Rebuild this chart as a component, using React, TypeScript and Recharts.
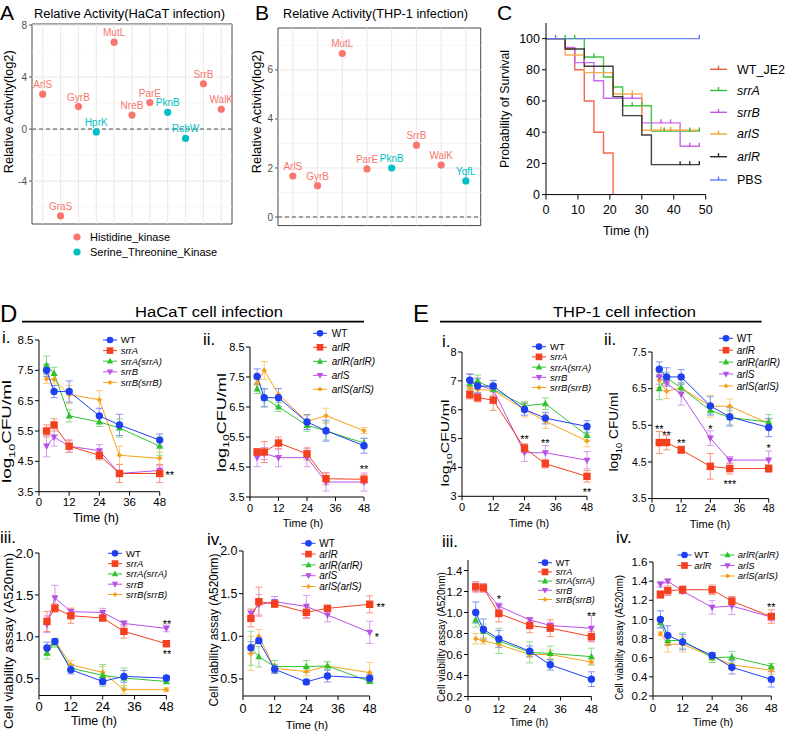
import React from 'react';
import {
  ComposedChart, ScatterChart, Scatter, Line, XAxis, YAxis, ErrorBar,
  ReferenceLine, ReferenceArea, ReferenceDot,
} from 'recharts';

const FONT = '"Liberation Sans", Arial, Helvetica, sans-serif';

// ---------------- Panel A / B : relative activity ----------------
const genesA = ['ArlS', 'GraS', 'GyrB', 'HprK', 'MutL', 'NreB', 'ParE', 'PknB', 'RsbW', 'SrrB', 'WalK'];
const valuesA = [2.68, -6.68, 1.73, -0.22, 6.68, 1.08, 2.04, 1.29, -0.72, 3.48, 1.52];
const kindsA = [0, 0, 0, 1, 0, 0, 0, 1, 1, 0, 0];
const ticksA = [-4, 0, 4, 8];
const minorA = [-6, -2, 2, 6];

const genesB = ['ArlS', 'GyrB', 'MutL', 'ParE', 'PknB', 'SrrB', 'WalK', 'YqfL'];
const valuesB = [1.67, 1.28, 6.67, 1.96, 2.0, 2.93, 2.12, 1.47];
const kindsB = [0, 0, 0, 0, 1, 0, 0, 1];
const ticksB = [0, 2, 4, 6];
const minorB = [1, 3, 5, 7];

const kindNames = ['Histidine_kinase', 'Serine_Threonine_Kinase'];
const kindColors = ['#F8766D', '#00BFC4'];

// ---------------- Panel C : survival ----------------
const kmNames = ['WT_JE2', 'srrA', 'srrB', 'arlS', 'arlR', 'PBS'];
const kmItalic = [false, true, true, true, true, false];
const kmColors = ['#f2583c', '#35bd35', '#c25ae6', '#f5a53c', '#2b2b2b', '#5b7cf2'];
const kmWT = [[0, 100], [6, 93.3], [9, 80], [12, 60], [15, 40], [18, 26.7], [21, 0]];
const kmSrrA = [[0, 100], [12, 88.2], [18, 75.4], [21, 69], [24, 57], [33, 40.8], [48, 40.8]];
const kmSrrB = [[0, 100], [6, 94.4], [9, 84.6], [15, 73], [18, 61.8], [30, 46], [42, 31], [48, 31]];
const kmArlS = [[0, 100], [6, 89.5], [12, 78.2], [21, 64.5], [30, 41.2], [48, 41.2]];
const kmArlR = [[0, 100], [6, 93.3], [12, 82.3], [21, 62.8], [24, 50.6], [30, 38.2], [33, 19.2], [48, 19.2]];
const kmPBS = [[0, 100], [48, 100]];
const cenWT: number[][] = [];
const cenSrrA = [[6, 100], [9, 100], [15, 88.2], [27, 57], [30, 57], [37, 40.8], [39, 40.8], [45, 40.8], [48, 40.8]];
const cenSrrB = [[12, 84.6], [27, 61.8], [36, 46], [39, 46], [45, 31], [48, 31]];
const cenArlS = [[15, 78.2], [27, 64.5], [36, 41.2], [39, 41.2], [42, 41.2]];
const cenArlR = [[42, 19.2], [45, 19.2], [48, 19.2]];
const cenPBS = [[3, 100], [48, 100]];
const kmCurves = [kmWT, kmSrrA, kmSrrB, kmArlS, kmArlR, kmPBS];
const kmCensors = [cenWT, cenSrrA, cenSrrB, cenArlS, cenArlR, cenPBS];
const kmTimeTicks = [0, 10, 20, 30, 40, 50];
const kmPctTicks = [0, 20, 40, 60, 80, 100];

// ---------------- Panels D / E : time courses ----------------
const times = [3, 6, 12, 24, 32, 48];
const timeTicks = [0, 12, 24, 36, 48];
const srrNames = ['WT', 'srrA', 'srrA(srrA)', 'srrB', 'srrB(srrB)'];
const arlNames = ['WT', 'arlR', 'arlR(arlR)', 'arlS', 'arlS(arlS)'];
const seriesColors = ['#1f3ff2', '#f5401f', '#2fc42f', '#b84fe6', '#f7a11a'];
const errColors = ['#8494f6', '#f7937f', '#8fdb8f', '#d59cef', '#f9ca74'];

const dIMeans = [
  [7.5, 6.8, 6.8, 6.0, 5.7, 5.2],
  [5.5, 5.7, 5.0, 4.7, 4.1, 4.1],
  [7.67, 7.4, 6.0, 5.8, 5.6, 5.0],
  [5.0, 5.3, 5.0, 4.85, 4.1, 4.2],
  [7.22, 7.2, 6.7, 6.53, 4.7, 4.6],
];
const dIErrs = [
  [0.2, 0.2, 0.35, 0.25, 0.35, 0.2],
  [0.2, 0.2, 0.2, 0.15, 0.3, 0.3],
  [0.3, 0.2, 0.2, 0.15, 0.3, 0.3],
  [0.35, 0.3, 0.2, 0.2, 0.1, 0.15],
  [0.15, 0.15, 0.3, 0.3, 0.3, 0.2],
];
const dIIMeans = [
  [7.52, 6.81, 6.81, 6.0, 5.71, 5.21],
  [5.0, 5.0, 5.3, 4.94, 4.11, 4.09],
  [7.1, 6.8, 6.5, 5.89, 5.7, 5.3],
  [4.81, 4.95, 4.81, 4.81, 4.0, 4.0],
  [7.31, 7.72, 6.92, 6.02, 6.21, 5.71],
];
const dIIErrs = [
  [0.25, 0.3, 0.3, 0.25, 0.35, 0.25],
  [0.1, 0.35, 0.2, 0.2, 0.2, 0.15],
  [0.15, 0.3, 0.15, 0.2, 0.3, 0.15],
  [0.3, 0.2, 0.3, 0.3, 0.3, 0.3],
  [0.1, 0.3, 0.2, 0.2, 0.25, 0.1],
];
const dIIIMeans = [
  [0.866, 0.946, 0.607, 0.468, 0.528, 0.508],
  [1.184, 1.343, 1.252, 1.224, 1.065, 0.918],
  [0.806, 0.926, 0.627, 0.54, 0.508, 0.468],
  [1.15, 1.465, 1.3, 1.29, 1.16, 1.1],
  [0.83, 0.95, 0.667, 0.576, 0.37, 0.37],
];
const dIIIErrs = [
  [0.07, 0.03, 0.05, 0.04, 0.07, 0.03],
  [0.12, 0.05, 0.09, 0.03, 0.08, 0.03],
  [0.07, 0.05, 0.04, 0.13, 0.12, 0.03],
  [0.1, 0.15, 0.03, 0.05, 0.03, 0.04],
  [0.05, 0.03, 0.05, 0.07, 0.05, 0.02],
];
const dIVMeans = [
  [0.867, 0.949, 0.613, 0.465, 0.535, 0.508],
  [1.21, 1.406, 1.379, 1.281, 1.328, 1.375],
  [0.86, 0.76, 0.645, 0.645, 0.652, 0.47],
  [1.27, 1.37, 1.406, 1.35, 1.25, 1.047],
  [0.8, 1.0, 0.625, 0.586, 0.652, 0.574],
];
const dIVErrs = [
  [0.07, 0.03, 0.05, 0.03, 0.07, 0.04],
  [0.1, 0.17, 0.04, 0.07, 0.02, 0.1],
  [0.2, 0.12, 0.07, 0.07, 0.05, 0.02],
  [0.05, 0.12, 0.06, 0.13, 0.08, 0.13],
  [0.2, 0.08, 0.05, 0.05, 0.05, 0.12],
];
const eIMeans = [
  [7.02, 6.82, 6.82, 6.01, 5.71, 5.42],
  [6.52, 6.42, 6.33, 4.67, 4.13, 3.69],
  [6.9, 7.0, 6.71, 6.13, 6.21, 5.11],
  [6.95, 6.85, 6.7, 4.51, 4.51, 4.25],
  [6.76, 6.7, 6.67, 6.0, 5.6, 4.92],
];
const eIErrs = [
  [0.2, 0.25, 0.2, 0.2, 0.2, 0.2],
  [0.15, 0.15, 0.35, 0.15, 0.15, 0.2],
  [0.2, 0.2, 0.3, 0.15, 0.2, 0.2],
  [0.3, 0.25, 0.2, 0.3, 0.25, 0.3],
  [0.25, 0.2, 0.2, 0.25, 0.25, 0.2],
];
const eIIMeans = [
  [7.03, 6.82, 6.82, 6.03, 5.73, 5.44],
  [5.03, 5.03, 4.83, 4.38, 4.32, 4.32],
  [6.5, 6.8, 6.52, 5.91, 5.71, 5.59],
  [6.82, 6.65, 6.35, 5.15, 4.55, 4.55],
  [6.73, 6.43, 6.52, 6.02, 6.02, 5.55],
];
const eIIErrs = [
  [0.2, 0.25, 0.2, 0.25, 0.25, 0.25],
  [0.3, 0.2, 0.1, 0.35, 0.15, 0.1],
  [0.3, 0.15, 0.15, 0.1, 0.2, 0.2],
  [0.2, 0.2, 0.3, 0.2, 0.1, 0.25],
  [0.2, 0.2, 0.15, 0.3, 0.2, 0.1],
];
const eIIIMeans = [
  [1.0, 0.838, 0.749, 0.632, 0.502, 0.365],
  [1.244, 1.235, 0.99, 0.877, 0.851, 0.771],
  [0.93, 0.82, 0.73, 0.62, 0.61, 0.58],
  [1.24, 1.235, 1.06, 0.93, 0.876, 0.85],
  [0.75, 0.73, 0.695, 0.6, 0.6, 0.527],
];
const eIIIErrs = [
  [0.1, 0.1, 0.08, 0.05, 0.05, 0.07],
  [0.05, 0.04, 0.08, 0.07, 0.08, 0.05],
  [0.07, 0.07, 0.12, 0.1, 0.07, 0.08],
  [0.04, 0.04, 0.03, 0.02, 0.03, 0.12],
  [0.05, 0.03, 0.03, 0.03, 0.04, 0.02],
];
const eIVMeans = [
  [1.0, 0.833, 0.764, 0.624, 0.5, 0.374],
  [1.26, 1.3, 1.31, 1.31, 1.19, 1.03],
  [0.97, 0.78, 0.78, 0.6, 0.607, 0.51],
  [1.367, 1.4, 1.297, 1.126, 1.14, 1.025],
  [0.85, 0.74, 0.74, 0.614, 0.527, 0.468],
];
const eIVErrs = [
  [0.09, 0.1, 0.08, 0.03, 0.07, 0.08],
  [0.04, 0.05, 0.04, 0.05, 0.05, 0.07],
  [0.05, 0.05, 0.08, 0.05, 0.06, 0.03],
  [0.03, 0.02, 0.03, 0.07, 0.09, 0.04],
  [0.02, 0.08, 0.08, 0.04, 0.05, 0.04],
];

const annDI = [{ t: 52, v: 4.11, s: '**' }];
const annDII = [{ t: 48, v: 4.5, s: '**' }];
const annDIII = [{ t: 48.2, v: 1.184, s: '**' }, { t: 48.2, v: 0.826, s: '**' }];
const annDIV = [{ t: 52.2, v: 1.375, s: '**' }, { t: 50.7, v: 1.023, s: '*' }];
const annEI = [{ t: 24, v: 5.06, s: '**' }, { t: 32, v: 4.91, s: '**' }, { t: 48, v: 3.21, s: '**' }];
const annEII = [
  { t: 3, v: 5.47, s: '**' }, { t: 6, v: 5.3, s: '**' }, { t: 12, v: 5.07, s: '**' },
  { t: 24, v: 5.47, s: '*' }, { t: 32, v: 3.95, s: '***' }, { t: 48, v: 4.94, s: '*' },
];
const annEIII = [{ t: 12, v: 1.146, s: '*' }, { t: 48, v: 0.988, s: '**' }];
const annEIV = [{ t: 48, v: 1.158, s: '**' }];

const lgTicksI = [3.5, 4.5, 5.5, 6.5, 7.5, 8.5];
const viaTicksD = [0.5, 1.0, 1.5, 2.0];
const lgTicksEI = [3, 4, 5, 6, 7, 8];
const lgTicksEII = [3.5, 4.5, 5.5, 6.5, 7.5];
const viaTicksEIII = [0.2, 0.4, 0.6, 0.8, 1.0, 1.2, 1.4];
const viaTicksEIV = [0.2, 0.4, 0.6, 0.8, 1.0, 1.2, 1.4, 1.6];

// ---------------- helpers ----------------
function mark(shape: number, cx: number, cy: number, color: string, key: string, s = 1) {
  if (cx == null || cy == null || isNaN(cx) || isNaN(cy)) return <g key={key} />;
  const r = 3.7 * s;
  if (shape === 0) return <circle key={key} cx={cx} cy={cy} r={r} fill={color} />;
  if (shape === 1) return <rect key={key} x={cx - r} y={cy - r} width={2 * r} height={2 * r} fill={color} />;
  if (shape === 2)
    return <polygon key={key} points={`${cx},${cy - r * 1.05} ${cx - r * 0.95},${cy + r * 0.7} ${cx + r * 0.95},${cy + r * 0.7}`} fill={color} />;
  if (shape === 3)
    return <polygon key={key} points={`${cx - r * 0.95},${cy - r * 0.7} ${cx + r * 0.95},${cy - r * 0.7} ${cx},${cy + r * 1.05}`} fill={color} />;
  const d = 2.8 * s;
  return <polygon key={key} points={`${cx},${cy - d} ${cx + d},${cy} ${cx},${cy + d} ${cx - d},${cy}`} fill={color} />;
}

function Activity({ genes, values, kinds, box, domain, major, minor }: any) {
  const [x0, x1, y0, y1] = box;
  const yw = 26, mt = 6, mr = 6, mb = 6;
  const W = x1 - x0 + yw + mr;
  const H = y1 - y0 + mt + mb;
  const n = genes.length;
  const pts = genes.map((g: string, i: number) => ({ x: i, y: values[i], name: g, kind: kinds[i] }));
  const xd: [number, number] = [-0.6, n - 0.4];
  return (
    <div style={{ position: 'absolute', left: x0 - yw, top: y0 - mt }}>
      <ScatterChart width={W} height={H} margin={{ top: mt, right: mr, bottom: mb, left: 0 }}>
        <XAxis type="number" dataKey="x" domain={xd} hide />
        <YAxis
          type="number" dataKey="y" domain={domain} ticks={major} interval={0} width={yw}
          axisLine={false} tickSize={3} tickMargin={2}
          tick={{ fontSize: 10, fill: '#4d4d4d', fontFamily: FONT }}
          tickLine={{ stroke: '#333', strokeWidth: 0.8 }}
        />
        {minor.map((v: number) => (
          <ReferenceLine key={'mi' + v} y={v} stroke="#f1f1f1" strokeWidth={0.6} />
        ))}
        {major.map((v: number) => (
          <ReferenceLine key={'ma' + v} y={v} stroke="#e5e5e5" strokeWidth={0.9} />
        ))}
        {genes.map((g: string, i: number) => (
          <ReferenceLine key={'v' + g} x={i} stroke="#e5e5e5" strokeWidth={0.9} />
        ))}
        <ReferenceLine y={0} stroke="#4d4d4d" strokeDasharray="4 3" strokeWidth={1} />
        <ReferenceArea x1={xd[0]} x2={xd[1]} y1={domain[0]} y2={domain[1]} fill="none" stroke="#333" strokeWidth={0.9} ifOverflow="visible" />
        {kindColors.map((c, k) => (
          <Scatter
            key={'s' + k}
            data={pts.filter((p: any) => p.kind === k)}
            isAnimationActive={false}
            shape={(p: any) => (
              <g>
                <circle cx={p.cx} cy={p.cy} r={3.6} fill={c} />
                <text x={p.cx} y={p.cy - 6} textAnchor="middle" fontSize={10} fill={c} fontFamily={FONT}>
                  {(p.payload && p.payload.name) || p.name}
                </text>
              </g>
            )}
          />
        ))}
      </ScatterChart>
    </div>
  );
}

function Survival() {
  const [x0, x1, y0, y1] = [546, 705.7, 23.4, 195];
  const yw = 40, xh = 28, mt = 4, mr = 10;
  const W = x1 - x0 + yw + mr;
  const H = y1 - y0 + mt + xh;
  const toPts = (arr: number[][]) => arr.map(([t, s]) => ({ t, s }));
  const tickStyle = { fontSize: 12.5, fill: '#000', fontFamily: FONT };
  return (
    <div style={{ position: 'absolute', left: x0 - yw, top: y0 - mt }}>
      <ComposedChart width={W} height={H} margin={{ top: mt, right: mr, bottom: 0, left: 0 }}>
        <XAxis type="number" dataKey="t" domain={[0, 50]} ticks={kmTimeTicks} interval={0} height={xh}
          tickSize={5} tickMargin={6} stroke="#000" tick={tickStyle} />
        <YAxis type="number" domain={[0, 110]} ticks={kmPctTicks} interval={0} width={yw}
          tickSize={4} tickMargin={2} stroke="#000" tick={tickStyle} />
        {kmCurves.map((c, k) => (
          <Line key={'c' + k} data={toPts(c)} dataKey="s" type="stepAfter" stroke={kmColors[k]}
            strokeWidth={1.4} strokeOpacity={0.9} dot={false} activeDot={false} isAnimationActive={false} />
        ))}
        {kmCensors.map((c, k) => (
          <Line key={'x' + k} data={toPts(c)} dataKey="s" stroke="none" activeDot={false} isAnimationActive={false}
            dot={(p: any) => (
              <line key={'cx' + k + '-' + p.index} x1={p.cx} x2={p.cx} y1={p.cy - 3.5} y2={p.cy + 0.5}
                stroke={kmColors[k]} strokeWidth={1.4} />
            )} />
        ))}
      </ComposedChart>
    </div>
  );
}

function TimePanel({ box, domain, ticks, dec, means, errs, ann, fs, xtm }: any) {
  const [x0, x1, y0, y1] = box;
  const yw = 40, xh = 26, mt = 6, mr = 16;
  const W = x1 - x0 + yw + mr;
  const H = y1 - y0 + mt + xh;
  const rows = times.map((t, i) => {
    const r: any = { t };
    means.forEach((m: number[], k: number) => {
      r['m' + k] = m[i];
      r['e' + k] = errs[k][i];
    });
    return r;
  });
  const tickStyle = { fontSize: fs, fill: '#000', fontFamily: FONT };
  const order = [4, 3, 2, 1, 0];
  return (
    <div style={{ position: 'absolute', left: x0 - yw, top: y0 - mt }}>
      <ComposedChart width={W} height={H} data={rows} margin={{ top: mt, right: mr, bottom: 0, left: 0 }}>
        <XAxis type="number" dataKey="t" domain={[0, 48]} ticks={timeTicks} interval={0} height={xh}
          tickSize={4} tickMargin={xtm} stroke="#000" tick={tickStyle} />
        <YAxis type="number" domain={domain} ticks={ticks} interval={0} width={yw}
          tickSize={4} tickMargin={1.5} stroke="#000" tick={tickStyle}
          tickFormatter={(v: number) => v.toFixed(dec)} />
        {order.map((k) => (
          <Line key={'l' + k} dataKey={'m' + k} stroke={seriesColors[k]} strokeWidth={1}
            activeDot={false} isAnimationActive={false}
            dot={(p: any) => mark(k, p.cx, p.cy, seriesColors[k], 'd' + k + '-' + p.index)}>
            <ErrorBar dataKey={'e' + k} width={3.5} stroke={errColors[k]} strokeWidth={1} direction="y" isAnimationActive={false} />
          </Line>
        ))}
        {ann.map((a: any, i: number) => (
          <ReferenceDot key={'a' + i} x={a.t} y={a.v} r={0} ifOverflow="visible"
            shape={(p: any) => (
              <text x={p.cx} y={p.cy + 6.2} textAnchor="middle" fontSize={11} fontFamily={FONT} fill="#000">{a.s}</text>
            )} />
        ))}
      </ComposedChart>
    </div>
  );
}

const panelsDE = [
  { key: 'di', box: [39.3, 160, 340, 491.7], domain: [3.5, 8.5], ticks: lgTicksI, dec: 1, means: dIMeans, errs: dIErrs, ann: annDI, fs: 11.5, xtm: 2 },
  { key: 'dii', box: [250, 364, 346.7, 496.7], domain: [3.5, 8.5], ticks: lgTicksI, dec: 1, means: dIIMeans, errs: dIIErrs, ann: annDII, fs: 11, xtm: 3 },
  { key: 'diii', box: [39.3, 166.7, 553.3, 695.8], domain: [0.3, 2.0], ticks: viaTicksD, dec: 1, means: dIIIMeans, errs: dIIIErrs, ann: annDIII, fs: 13, xtm: 2 },
  { key: 'div', box: [243.3, 370, 551, 696], domain: [0.3, 2.0], ticks: viaTicksD, dec: 1, means: dIVMeans, errs: dIVErrs, ann: annDIV, fs: 12.5, xtm: 4 },
  { key: 'ei', box: [461.7, 586.7, 351.7, 496], domain: [3, 8], ticks: lgTicksEI, dec: 0, means: eIMeans, errs: eIErrs, ann: annEI, fs: 11, xtm: 3 },
  { key: 'eii', box: [652, 768.7, 351.7, 498.3], domain: [3.5, 7.5], ticks: lgTicksEII, dec: 1, means: eIIMeans, errs: eIIErrs, ann: annEII, fs: 10.5, xtm: 1.5 },
  { key: 'eiii', box: [468.3, 591.7, 559.5, 696], domain: [0.2, 1.5], ticks: viaTicksEIII, dec: 1, means: eIIIMeans, errs: eIIIErrs, ann: annEIII, fs: 11.5, xtm: 4 },
  { key: 'eiv', box: [652.7, 771, 561.7, 695.7], domain: [0.2, 1.6], ticks: viaTicksEIV, dec: 1, means: eIVMeans, errs: eIVErrs, ann: annEIV, fs: 11.5, xtm: 4 },
];

// legends: [cx, tx, y0, dy, fs]
const legendsDE = [
  { names: srrNames, cx: 110, tx: 120.7, y0: 340, dy: 10.6, fs: 9.5 },
  { names: arlNames, cx: 320, tx: 331.7, y0: 333.3, dy: 14, fs: 10 },
  { names: srrNames, cx: 115, tx: 126, y0: 553.3, dy: 10.3, fs: 9.5 },
  { names: arlNames, cx: 308.5, tx: 319.3, y0: 543.3, dy: 10.8, fs: 10 },
  { names: srrNames, cx: 539, tx: 550, y0: 346.7, dy: 10.2, fs: 9.5 },
  { names: arlNames, cx: 726, tx: 736.7, y0: 338.3, dy: 11.9, fs: 10 },
  { names: srrNames, cx: 545, tx: 555.7, y0: 562.7, dy: 9.2, fs: 9 },
];

function legendItem(k: number, cx: number, tx: number, y: number, label: string, fs: number, key: string) {
  return (
    <g key={key}>
      <line x1={cx - 7} x2={cx + 7} y1={y} y2={y} stroke={seriesColors[k]} strokeWidth={1} />
      {mark(k, cx, y, seriesColors[k], key + 'm', 0.9)}
      <text x={tx} y={y + fs * 0.36} fontSize={fs} fontStyle={label === 'WT' ? 'normal' : 'italic'} fill="#000">{label}</text>
    </g>
  );
}

function vText(cx: number, cy: number, fs: number, len: number, content: any, key: string) {
  return (
    <text key={key} transform={`translate(${cx + fs * 0.36},${cy}) rotate(-90)`} textAnchor="middle"
      fontSize={fs} textLength={len} lengthAdjust="spacingAndGlyphs" fill="#000">
      {content}
    </text>
  );
}

function logLabel(fs: number, space: boolean) {
  return [
    <tspan key="a">log</tspan>,
    <tspan key="b" fontSize={fs * 0.68} dy={fs * 0.28}>10</tspan>,
    <tspan key="c" dy={-fs * 0.28}>{space ? ' CFU/ml' : 'CFU/ml'}</tspan>,
  ];
}

function Overlay() {
  const cellV = 'Cell viability assay (A520nm)';
  return (
    <svg width={786} height={732} style={{ position: 'absolute', left: 0, top: 0, pointerEvents: 'none' }} fontFamily={FONT}>
      {/* panel letters */}
      <text x={0} y={20} fontSize={21}>A</text>
      <text x={255} y={20} fontSize={21}>B</text>
      <text x={497} y={20} fontSize={21}>C</text>
      <text x={0} y={322} fontSize={24}>D</text>
      <text x={413} y={322} fontSize={24}>E</text>

      {/* A / B titles */}
      <text x={34} y={17.5} fontSize={12} textLength={191} lengthAdjust="spacingAndGlyphs">Relative Activity(HaCaT infection)</text>
      <text x={283} y={17.5} fontSize={12} textLength={185} lengthAdjust="spacingAndGlyphs">Relative Activity(THP-1 infection)</text>
      {vText(8.3, 111.7, 12, 123, 'Relative Activity(log2)', 'ya')}
      {vText(256.5, 111.7, 12, 123, 'Relative Activity(log2)', 'yb')}

      {/* A legend */}
      {kindNames.map((nm, k) => (
        <g key={'kl' + k}>
          <circle cx={77} cy={237 + 15 * k} r={3.6} fill={kindColors[k]} />
          <text x={90} y={241 + 15 * k} fontSize={11}>{nm}</text>
        </g>
      ))}

      {/* C labels and legend */}
      {vText(505, 109, 12, 118, 'Probability of Survival', 'yc')}
      <text x={626} y={234.5} fontSize={12.5} textAnchor="middle">Time (h)</text>
      {kmNames.map((nm, k) => {
        const y = [69.3, 90.5, 112.3, 134, 156.7, 180][k];
        return (
          <g key={'km' + k}>
            <line x1={710} x2={727} y1={y} y2={y} stroke={kmColors[k]} strokeWidth={1.4} />
            <line x1={718.5} x2={718.5} y1={y - 3.5} y2={y + 0.5} stroke={kmColors[k]} strokeWidth={1.4} />
            <text x={737} y={y + 4.4} fontSize={12.5} fontStyle={kmItalic[k] ? 'italic' : 'normal'}>{nm}</text>
          </g>
        );
      })}

      {/* D / E headings */}
      <text x={135} y={317} fontSize={15.5} textLength={148} lengthAdjust="spacingAndGlyphs">HaCaT cell infection</text>
      <line x1={22} x2={364} y1={321.7} y2={321.7} stroke="#000" strokeWidth={1.8} />
      <text x={553} y={317} fontSize={15.5} textLength={143} lengthAdjust="spacingAndGlyphs">THP-1 cell infection</text>
      <line x1={440} x2={761.7} y1={321.7} y2={321.7} stroke="#000" strokeWidth={1.8} />

      {/* sub panel numerals */}
      <text x={2} y={343} fontSize={17}>i.</text>
      <text x={203} y={345} fontSize={17}>ii.</text>
      <text x={0} y={543} fontSize={17}>iii.</text>
      <text x={207} y={545} fontSize={17}>iv.</text>
      <text x={442} y={347} fontSize={17}>i.</text>
      <text x={604} y={345} fontSize={17}>ii.</text>
      <text x={442} y={547} fontSize={17}>iii.</text>
      <text x={616} y={543} fontSize={17}>iv.</text>

      {/* y titles D / E */}
      {vText(7, 431.5, 12, 103, logLabel(12, false), 'ydi')}
      {vText(221.7, 422.5, 12, 99, logLabel(12, false), 'ydii')}
      {vText(8, 641, 13, 176, cellV, 'ydiii')}
      {vText(213.3, 630, 12, 153, cellV, 'ydiv')}
      {vText(445, 443, 11, 87, logLabel(11, false), 'yei')}
      {vText(614, 432, 12, 79, logLabel(12, true), 'yeii')}
      {vText(441.7, 637, 10, 130, cellV, 'yeiii')}
      {vText(619.3, 637.5, 10, 125, cellV, 'yeiv')}

      {/* x titles D / E */}
      <text x={96} y={521.5} fontSize={12.5} textAnchor="middle">Time (h)</text>
      <text x={303} y={527} fontSize={11} textAnchor="middle">Time (h)</text>
      <text x={94} y={725} fontSize={12.5} textAnchor="middle">Time (h)</text>
      <text x={307} y={729} fontSize={11.5} textAnchor="middle">Time (h)</text>
      <text x={529} y={527} fontSize={11} textAnchor="middle">Time (h)</text>
      <text x={710} y={528} fontSize={11} textAnchor="middle">Time (h)</text>
      <text x={529} y={726} fontSize={10.5} textAnchor="middle">Time (h)</text>
      <text x={713} y={726} fontSize={11} textAnchor="middle">Time (h)</text>

      {/* legends D / E */}
      {legendsDE.map((L, li) =>
        L.names.map((nm, k) => legendItem(k, L.cx, L.tx, L.y0 + L.dy * k, nm, L.fs, 'lg' + li + '-' + k))
      )}
      {/* E iv legend: two columns */}
      {legendItem(0, 684.5, 694.3, 555, arlNames[0], 9.5, 'e4-0')}
      {legendItem(1, 684.5, 694.3, 565.5, arlNames[1], 9.5, 'e4-1')}
      {legendItem(2, 727.5, 737.7, 555, arlNames[2], 9.5, 'e4-2')}
      {legendItem(3, 727.5, 737.7, 565.5, arlNames[3], 9.5, 'e4-3')}
      {legendItem(4, 727.5, 737.7, 576, arlNames[4], 9.5, 'e4-4')}
    </svg>
  );
}

export default function App() {
  return (
    <div style={{ position: 'relative', width: 786, height: 732, background: '#fff', overflow: 'hidden', fontFamily: FONT }}>
      <style>{'body{margin:0;}'}</style>
      <Activity genes={genesA} values={valuesA} kinds={kindsA} box={[32, 232, 24, 224]} domain={[-7.3, 8.08]} major={ticksA} minor={minorA} />
      <Activity genes={genesB} values={valuesB} kinds={kindsB} box={[278.3, 481, 27.7, 225.3]} domain={[-0.35, 7.71]} major={ticksB} minor={minorB} />
      <Survival />
      {panelsDE.map((p) => (
        <TimePanel key={p.key} {...p} />
      ))}
      <Overlay />
    </div>
  );
}
